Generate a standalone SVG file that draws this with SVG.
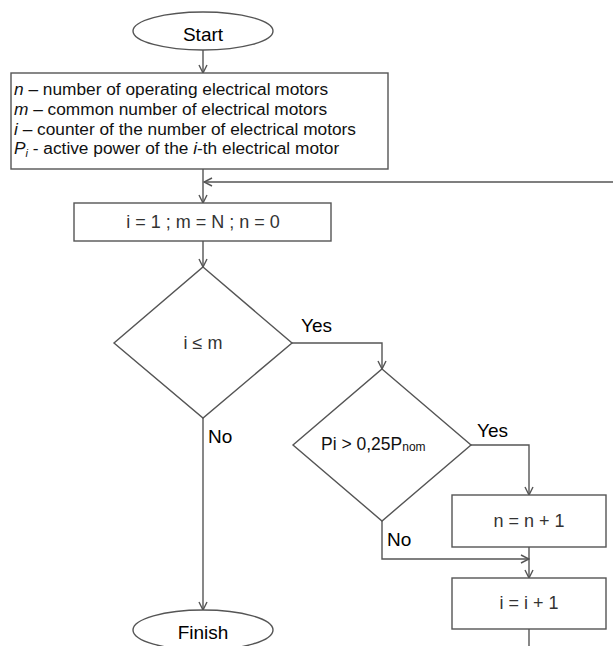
<svg xmlns="http://www.w3.org/2000/svg" width="613" height="646" viewBox="0 0 613 646">
<style>
.shape{fill:#fff;stroke:#555;stroke-width:1.4}
.ln{fill:none;stroke:#555;stroke-width:1.4}
.t{font-family:"Liberation Sans",Arial,sans-serif;fill:#111}
.lbl{font-family:"Liberation Sans",Arial,sans-serif;font-size:19px;fill:#000}
.bx{font-size:18px;text-anchor:middle;fill:#333}
.lg{font-size:17.3px}
</style>
<defs>
<marker id="arr" markerWidth="10" markerHeight="10" refX="9" refY="5" orient="auto" markerUnits="userSpaceOnUse">
<path d="M1,1 L9,5 L1,9" fill="none" stroke="#555" stroke-width="1.4"/>
</marker>
</defs>
<rect width="613" height="646" fill="#fff"/>
<g id="connectors">
<line class="ln" x1="203" y1="50" x2="203" y2="73" marker-end="url(#arr)"/>
<line class="ln" x1="203" y1="169" x2="203" y2="203" marker-end="url(#arr)"/>
<line class="ln" x1="613" y1="182" x2="204" y2="182" marker-end="url(#arr)"/>
<line class="ln" x1="203" y1="241" x2="203" y2="267" marker-end="url(#arr)"/>
<polyline class="ln" points="292,343 382,343 382,369" marker-end="url(#arr)"/>
<line class="ln" x1="203" y1="418" x2="203" y2="610" marker-end="url(#arr)"/>
<polyline class="ln" points="471,445 529,445 529,495" marker-end="url(#arr)"/>
<polyline class="ln" points="382,521 382,559 529,559" marker-end="url(#arr)"/>
<line class="ln" x1="529" y1="547" x2="529" y2="578" marker-end="url(#arr)"/>
<line class="ln" x1="529" y1="629" x2="529" y2="646"/>
<text class="lbl" x="301" y="332">Yes</text>
<text class="lbl" x="477" y="437">Yes</text>
<text class="lbl" x="208" y="443">No</text>
<text class="lbl" x="387" y="546">No</text>
</g>
<g id="start">
<ellipse class="shape" cx="203" cy="31" rx="70" ry="19"/>
<text class="lbl" x="203" y="41" text-anchor="middle">Start</text>
</g>
<g id="legend">
<rect class="shape" x="11" y="73" width="377" height="96"/>
<text class="t lg" x="14" y="95"><tspan font-style="italic">n</tspan> – number of operating electrical motors</text>
<text class="t lg" x="14" y="115"><tspan font-style="italic">m</tspan> – common number of electrical motors</text>
<text class="t lg" x="14" y="135"><tspan font-style="italic">i</tspan> – counter of the number of electrical motors</text>
<text class="t lg" x="14" y="154"><tspan font-style="italic">P<tspan font-size="11" dy="3">i</tspan></tspan><tspan dy="-3">  - active power of the </tspan><tspan font-style="italic">i</tspan>-th electrical motor</text>
</g>
<g id="init">
<rect class="shape" x="74" y="203" width="257" height="38"/>
<text class="t bx" x="203" y="228">i = 1 ; m = N ; n = 0</text>
</g>
<g id="cond1">
<polygon class="shape" points="203,267 292,343 203,418 114,343"/>
<text class="t bx" x="203" y="349">i ≤ m</text>
</g>
<g id="cond2">
<polygon class="shape" points="382,369 471,445 382,521 293,445"/>
<text class="t" font-size="17.5" x="321" y="450" fill="#333">Pi &gt; 0,25P<tspan font-size="12" dy="1">nom</tspan></text>
</g>
<g id="inc_n">
<rect class="shape" x="452" y="495" width="154" height="52"/>
<text class="t bx" x="529" y="527">n = n + 1</text>
</g>
<g id="inc_i">
<rect class="shape" x="452" y="578" width="154" height="51"/>
<text class="t bx" x="529" y="609">i = i + 1</text>
</g>
<g id="finish">
<ellipse class="shape" cx="203" cy="630" rx="70" ry="20"/>
<text class="lbl" x="203" y="639" text-anchor="middle">Finish</text>
</g>
</svg>
